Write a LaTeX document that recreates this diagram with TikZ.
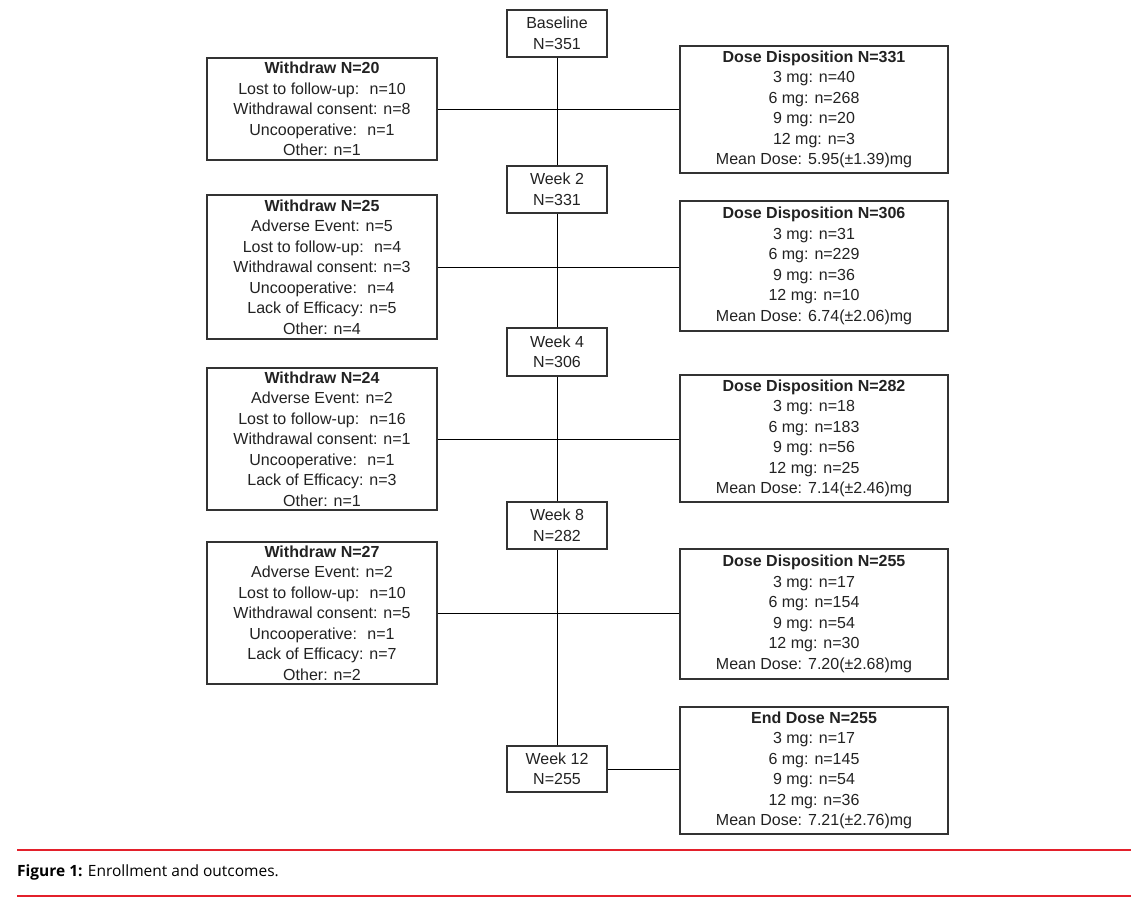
\documentclass[tikz,border=0pt]{standalone}
\usepackage{fontspec}
\newfontfamily\boxfont{Liberation Sans}
\newfontfamily\capfont{Open Sans}
\definecolor{capred}{HTML}{E3202B}
\definecolor{txt}{HTML}{222222}
\begin{document}
\begin{tikzpicture}[x=1pt,y=-1pt,
  box/.style={draw=black!80,line width=1.1pt,rectangle,inner sep=0pt,align=center,
    text=txt,font=\boxfont\fontsize{16}{20.5}\selectfont},
  wbox/.style={box,minimum width=230pt},
  dbox/.style={box,minimum width=268pt},
  tbox/.style={box,minimum width=100pt,line width=1.6pt},
  conn/.style={draw=black,line width=0.8pt}]
\useasboundingbox (0,0) rectangle (1139,902);
\fill[white] (0,0) rectangle (1139,902);
\node[tbox,minimum height=47pt] (base) at (557,33.5) {Baseline\\N=351};
\node[tbox,minimum height=47pt] (wk2) at (557,189.5) {Week 2\\N=331};
\node[tbox,minimum height=48pt] (wk4) at (557,352) {Week 4\\N=306};
\node[tbox,minimum height=47pt] (wk8) at (557,525.5) {Week 8\\N=282};
\node[tbox,minimum height=46pt] (wk12) at (557,769) {Week 12\\N=255};

\node[wbox,minimum height=102pt] (w1) at (322,109) {\textbf{Withdraw N=20}\\Lost to follow-up:~ n=10\\Withdrawal consent: n=8\\Uncooperative:~ n=1\\Other: n=1};
\node[wbox,minimum height=144pt] (w2) at (322,267) {\textbf{Withdraw N=25}\\Adverse Event: n=5\\Lost to follow-up:~ n=4\\Withdrawal consent: n=3\\Uncooperative:~ n=4\\Lack of Efficacy: n=5\\Other: n=4};
\node[wbox,minimum height=142pt] (w3) at (322,439) {\textbf{Withdraw N=24}\\Adverse Event: n=2\\Lost to follow-up:~ n=16\\Withdrawal consent: n=1\\Uncooperative:~ n=1\\Lack of Efficacy: n=3\\Other: n=1};
\node[wbox,minimum height=142pt] (w4) at (322,613) {\textbf{Withdraw N=27}\\Adverse Event: n=2\\Lost to follow-up:~ n=10\\Withdrawal consent: n=5\\Uncooperative:~ n=1\\Lack of Efficacy: n=7\\Other: n=2};

\node[dbox,minimum height=127pt] (d1) at (814,109.5) {\textbf{Dose Disposition N=331}\\3 mg: n=40\\6 mg: n=268\\9 mg: n=20\\12 mg: n=3\\Mean Dose: 5.95(±1.39)mg};
\node[dbox,minimum height=130pt] (d2) at (814,266) {\textbf{Dose Disposition N=306}\\3 mg: n=31\\6 mg: n=229\\9 mg: n=36\\12 mg: n=10\\Mean Dose: 6.74(±2.06)mg};
\node[dbox,minimum height=127pt] (d3) at (814,438.5) {\textbf{Dose Disposition N=282}\\3 mg: n=18\\6 mg: n=183\\9 mg: n=56\\12 mg: n=25\\Mean Dose: 7.14(±2.46)mg};
\node[dbox,minimum height=130pt] (d4) at (814,614) {\textbf{Dose Disposition N=255}\\3 mg: n=17\\6 mg: n=154\\9 mg: n=54\\12 mg: n=30\\Mean Dose: 7.20(±2.68)mg};
\node[dbox,minimum height=127pt] (de) at (814,770.5) {\textbf{End Dose N=255}\\3 mg: n=17\\6 mg: n=145\\9 mg: n=54\\12 mg: n=36\\Mean Dose: 7.21(±2.76)mg};

\draw[conn] (base.south) -- (wk2.north);
\draw[conn] (wk2.south) -- (wk4.north);
\draw[conn] (wk4.south) -- (wk8.north);
\draw[conn] (wk8.south) -- (wk12.north);
\draw[conn] (w1.east) -- (w1.east -| d1.west);
\draw[conn] (w2.east) -- (w2.east -| d2.west);
\draw[conn] (w3.east) -- (w3.east -| d3.west);
\draw[conn] (w4.east) -- (w4.east -| d4.west);
\draw[conn] (wk12.east) -- (wk12.east -| de.west);

\draw[capred,line width=2pt] (17,850) -- (1131,850);
\draw[capred,line width=2pt] (17,896) -- (1131,896);
\node[anchor=west,inner sep=0pt,font=\capfont\fontsize{15.5}{18}\selectfont] (cap) at (17,872) {\textbf{Figure 1:} Enrollment and outcomes.};
\end{tikzpicture}
\end{document}
